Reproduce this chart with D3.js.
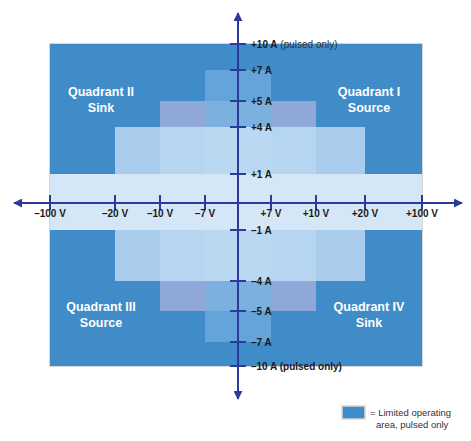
<!DOCTYPE html>
<html>
<head>
<meta charset="utf-8">
<script src="https://cdn.jsdelivr.net/npm/d3@7"></script>
<style>
  body { margin: 0; background: #fff; }
  svg { display: block; font-family: "Liberation Sans", Arial, sans-serif; }
</style>
</head>
<body>
<svg width="471" height="441"></svg>
<script>
// voltage / current ticks (axis is not linear, each step gets its own slot)
let voltTicks = [-100, -20, -10, -7, 7, 10, 20, 100];
let voltLabels = ['\u2013100 V', '\u201320 V', '\u201310 V', '\u20137 V', '+7 V', '+10 V', '+20 V', '+100 V'];
let ampTicks = [10, 7, 5, 4, 1, -1, -4, -5, -7, -10];
let ampLabels = ['+10 A', '+7 A', '+5 A', '+4 A', '+1 A', '\u20131 A', '\u20134 A', '\u20135 A', '\u20137 A', '\u201310 A (pulsed only)'];

// operating areas, symmetric limits in volts / amps
let areaVolts = [100, 7, 10, 7, 20, 10, 7, 100];
let areaAmps = [10, 7, 5, 5, 4, 4, 4, 1];
let areaFills = ['#3f8cc8', '#65a4da', '#8fa8d7', '#7cb0de', '#a9cced', '#b6d5f0', '#bad8f1', '#d5e6f6'];

let quadrants = [
    {lines: ['Quadrant II', 'Sink'], v: -1, a: 1},
    {lines: ['Quadrant I', 'Source'], v: 1, a: 1},
    {lines: ['Quadrant III', 'Source'], v: -1, a: -1},
    {lines: ['Quadrant IV', 'Sink'], v: 1, a: -1}
];

let svg = d3.select('svg');
let axisColor = '#2c3a9c';

let x = d3.scaleLinear()
    .domain([-100, -20, -10, -7, 0, 7, 10, 20, 100])
    .range([50, 115, 160, 205, 238, 271, 316, 365, 422]);
let y = d3.scaleLinear()
    .domain([-10, -7, -5, -4, -1, 0, 1, 4, 5, 7, 10])
    .range([366, 342, 311, 281, 230, 203, 174, 127, 101, 70, 44]);

// border behind the whole area
svg.append('rect')
    .attr('x', x(-100) - 1).attr('y', y(10) - 1)
    .attr('width', x(100) - x(-100) + 2).attr('height', y(-10) - y(10) + 2)
    .attr('fill', '#d6d6d6');

svg.selectAll('.area')
    .data(areaVolts)
    .enter()
    .append('rect')
    .attr('class', 'area')
    .attr('x', v => x(-v))
    .attr('width', v => x(v) - x(-v))
    .attr('y', (v, i) => y(areaAmps[i]))
    .attr('height', (v, i) => y(-areaAmps[i]) - y(areaAmps[i]))
    .attr('fill', (v, i) => areaFills[i]);

// quadrant names
quadrants.forEach(function(q) {
    let cx = q.v < 0 ? 101 : 369;
    let cy = q.a > 0 ? 92 : 307;
    q.lines.forEach(function(line, i) {
        svg.append('text')
            .attr('x', cx).attr('y', cy + i * 16)
            .attr('dy', '0.35em')
            .attr('text-anchor', 'middle')
            .attr('fill', '#fff')
            .attr('font-weight', 'bold')
            .attr('font-size', '12.5px')
            .text(line);
    });
});

// axes
svg.append('defs').append('marker')
    .attr('id', 'arrow')
    .attr('viewBox', '0 0 10 10')
    .attr('refX', 9).attr('refY', 5)
    .attr('markerWidth', 4.5).attr('markerHeight', 4.5)
    .attr('orient', 'auto')
    .append('path')
    .attr('d', 'M0,0 L10,5 L0,10 Z')
    .attr('fill', axisColor);

let y0 = y(0), x0 = x(0);
svg.append('line')
    .attr('x1', x0).attr('x2', 14).attr('y1', y0).attr('y2', y0)
    .attr('stroke', axisColor).attr('stroke-width', 2).attr('marker-end', 'url(#arrow)');
svg.append('line')
    .attr('x1', x0).attr('x2', 462).attr('y1', y0).attr('y2', y0)
    .attr('stroke', axisColor).attr('stroke-width', 2).attr('marker-end', 'url(#arrow)');
svg.append('line')
    .attr('x1', x0).attr('x2', x0).attr('y1', y0).attr('y2', 13)
    .attr('stroke', axisColor).attr('stroke-width', 2).attr('marker-end', 'url(#arrow)');
svg.append('line')
    .attr('x1', x0).attr('x2', x0).attr('y1', y0).attr('y2', 399)
    .attr('stroke', axisColor).attr('stroke-width', 2).attr('marker-end', 'url(#arrow)');

svg.selectAll('.vtick')
    .data(voltTicks)
    .enter()
    .append('line')
    .attr('x1', d => x(d)).attr('x2', d => x(d))
    .attr('y1', y0 - 8).attr('y2', y0 + 7)
    .attr('stroke', axisColor).attr('stroke-width', 2);

svg.selectAll('.vlabel')
    .data(voltTicks)
    .enter()
    .append('text')
    .attr('x', d => x(d)).attr('y', y0 + 14)
    .attr('text-anchor', 'middle')
    .attr('font-weight', 'bold')
    .attr('font-size', '10px')
    .attr('fill', '#1a1a1a')
    .text((d, i) => voltLabels[i]);

svg.selectAll('.atick')
    .data(ampTicks)
    .enter()
    .append('line')
    .attr('x1', x0 - 8).attr('x2', x0 + 8)
    .attr('y1', d => y(d)).attr('y2', d => y(d))
    .attr('stroke', axisColor).attr('stroke-width', 2);

let alabels = svg.selectAll('.alabel')
    .data(ampTicks)
    .enter()
    .append('text')
    .attr('x', 251).attr('y', d => y(d))
    .attr('dy', '0.35em')
    .attr('font-weight', 'bold')
    .attr('font-size', '10px')
    .attr('fill', '#1a1a1a')
    .text((d, i) => ampLabels[i]);

// the +10 A label has a lighter "(pulsed only)" part
alabels.filter(d => d === 10)
    .append('tspan')
    .attr('font-weight', 'normal')
    .attr('fill', '#333')
    .text(' (pulsed only)');

// legend
svg.append('rect')
    .attr('x', 342).attr('y', 406).attr('width', 23).attr('height', 13)
    .attr('fill', areaFills[0]).attr('stroke', '#d6d6d6').attr('stroke-width', 1.5);
svg.append('text')
    .attr('x', 370).attr('y', 413).attr('dy', '0.35em')
    .attr('font-size', '9.5px').attr('fill', '#333')
    .text('= Limited operating');
svg.append('text')
    .attr('x', 376).attr('y', 425).attr('dy', '0.35em')
    .attr('font-size', '9.5px').attr('fill', '#333')
    .text('area, pulsed only');
</script>
</body>
</html>
